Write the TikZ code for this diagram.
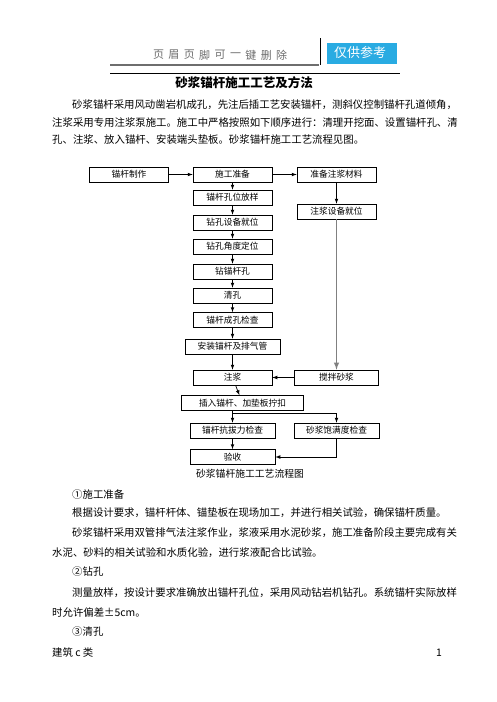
\documentclass[tikz,border=0pt]{standalone}
\usepackage{fontspec}
\setmainfont{Noto Sans CJK SC}
\usetikzlibrary{positioning}
\definecolor{tagblue}{RGB}{41,171,226}
\definecolor{hdrgray}{RGB}{110,110,110}
\XeTeXlinebreaklocale "zh"
\XeTeXlinebreakskip=0pt plus 2pt
\newcommand{\fitline}[2]{\makebox[#1][s]{#2}}

\begin{document}
\begin{tikzpicture}[x=1pt,y=-1pt,>=latex,
	box/.style={draw,line width=0.7pt,minimum width=79pt,minimum height=15pt,inner sep=0pt,font=\fontsize{8.7}{10}\selectfont},
	txt/.style={anchor=west,inner sep=0pt,font=\fontsize{10.4}{12}\selectfont},
	hdr/.style={inner sep=0pt,text=hdrgray,font=\fontsize{11}{12}\selectfont}]

	\fill[white] (0,0) rectangle (496,702);
	\useasboundingbox (0,0) rectangle (496,702);

	% header
	\foreach \c [count=\i from 0] in {页,眉,页,脚,可,一,键,删,除}
		\node[hdr] (h\i) at (158.5+15.4*\i,55) {\c};
	\draw[hdrgray,line width=1.5pt] (110,65) -- (319,65);
	\draw[line width=0.6pt] (320,38) -- (320,65);
	\draw[line width=0.6pt] (110,73) -- (400,73);
	\node[fill=tagblue,text=white,minimum width=70pt,minimum height=21pt,inner sep=0pt,font=\fontsize{13}{14}\selectfont] (tag) at (362,53) {\fitline{56pt}{仅供参考}};

	% title and intro
	\node[inner sep=0pt,font=\fontsize{12.5}{14}\selectfont\bfseries] (title) at (244,83) {砂浆锚杆施工工艺及方法};
	\node[txt] (p1) at (72,105) {\fitline{385pt}{砂浆锚杆采用风动凿岩机成孔，先注后插工艺安装锚杆，测斜仪控制锚杆孔道倾角，}};
	\node[txt] (p2) at (52,123) {\fitline{405pt}{注浆采用专用注浆泵施工。施工中严格按照如下顺序进行：清理开挖面、设置锚杆孔、清}};
	\node[txt] (p3) at (52,140) {孔、注浆、放入锚杆、安装端头垫板。砂浆锚杆施工工艺流程见图。};

	% flow chart
	\begin{scope}[node distance=24pt,on grid]
		\node[box] (prep) at (232.5,174.5) {施工准备};
		\node[box] (make) [left=103.5pt of prep] {锚杆制作};
		\node[box] (mat) [right=104pt of prep] {准备注浆材料};
		\node[box] (site) [below=37pt of mat] {注浆设备就位};
		\node[box] (lay) [below=23pt of prep] {锚杆孔位放样};
		\node[box] (seat) [below=25pt of lay] {钻孔设备就位};
		\node[box] (ang) [below=of seat] {钻孔角度定位};
		\node[box] (bore) [below=25pt of ang] {钻锚杆孔};
		\node[box] (clean) [below=of bore] {清孔};
		\node[box] (chk) [below=24.5pt of clean] {锚杆成孔检查};
		\node[box,minimum width=95pt] (inst) [below=26.5pt of chk] {安装锚杆及排气管};
		\node[box] (grout) [below=31pt of inst] {注浆};
		\node[box,minimum width=84pt] (mix) [right=104pt of grout] {搅拌砂浆};
		\node[box,minimum width=122pt] (ins) [below=25.5pt of grout,xshift=10pt] {插入锚杆、加垫板拧扣};
		\node[box,minimum width=85pt] (pull) [below=27.5pt of ins,xshift=-10pt] {锚杆抗拔力检查};
		\node[box,minimum width=85pt] (sat) [right=104pt of pull] {砂浆饱满度检查};
		\node[box,minimum width=85pt] (acc) [below=26.5pt of pull] {验收};
	\end{scope}
	\coordinate (fork) at (232.5,413);

	\path[->,line width=0.7pt]
		(make)	edge (prep)
		(prep)	edge (mat)
				edge (lay)
		(lay)	edge (seat)
		(seat)	edge (ang)
		(ang)	edge (bore)
		(bore)	edge (clean)
		(clean)	edge (chk)
		(chk)	edge (inst)
		(inst)	edge (grout)
		(grout)	edge (ins)
		(mat)	edge (site)
		(mix)	edge (grout);
	\draw[->,gray,line width=1.4pt] (site) -- (mix);
	\draw[->,line width=0.7pt] (ins.south -| pull) -- (pull);
	\draw[->,line width=0.7pt] (fork) -| (sat);
	\draw[->,line width=0.7pt] (pull) -- (acc);
	\draw[->,line width=0.7pt] (sat) |- (acc);
	\node[inner sep=0pt,font=\fontsize{9.8}{11}\selectfont] (cap) at (250,474) {砂浆锚杆施工工艺流程图};

	% sections
	\node[txt] (s1) at (72,495) {①施工准备};
	\node[txt] (s1a) at (72,513) {根据设计要求，锚杆杆体、锚垫板在现场加工，并进行相关试验，确保锚杆质量。};
	\node[txt] (s1b) at (72,533) {\fitline{370pt}{砂浆锚杆采用双管排气法注浆作业，浆液采用水泥砂浆，施工准备阶段主要完成有关}};
	\node[txt] (s1c) at (52,553) {水泥、砂料的相关试验和水质化验，进行浆液配合比试验。};
	\node[txt] (s2) at (72,572) {②钻孔};
	\node[txt] (s2a) at (72,593) {\fitline{370pt}{测量放样，按设计要求准确放出锚杆孔位，采用风动钻岩机钻孔。系统锚杆实际放样}};
	\node[txt] (s2b) at (52,613) {时允许偏差±5cm。};
	\node[txt] (s3) at (72,632) {③清孔};

	% footer
	\node[txt] (foot) at (52,653) {建筑 c 类};
	\node[txt,anchor=east] (page) at (442,653) {1};

\end{tikzpicture}
\end{document}
